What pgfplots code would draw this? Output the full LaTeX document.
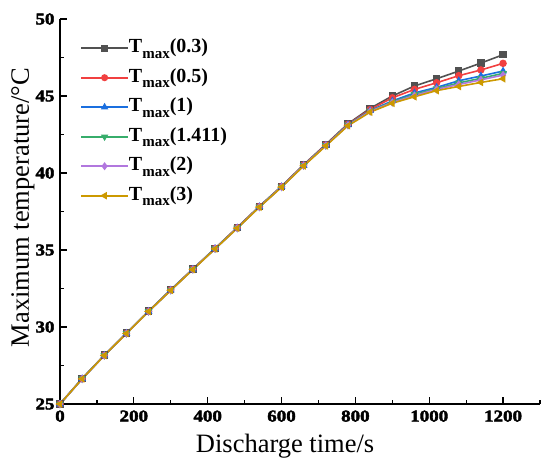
\documentclass[border=0pt]{standalone}
\usepackage{pgfplots}
\usepackage{pgfplotstable}
\pgfplotsset{compat=1.18}
\usepackage{fontspec}
\setmainfont{Liberation Serif}
\newfontfamily\tickfont[FakeStretch=1.15,FakeBold=2.5]{Liberation Serif Bold}
\definecolor{cA}{HTML}{515151}
\definecolor{cB}{HTML}{F14040}
\definecolor{cC}{HTML}{1A6FDF}
\definecolor{cD}{HTML}{37AD6B}
\definecolor{cE}{HTML}{B177DE}
\definecolor{cF}{HTML}{CC9900}
\newcommand{\Tm}[1]{T\raisebox{-0.28em}{\fontsize{15}{15}\selectfont max}(#1)}
\newcommand{\tlab}[1]{\mbox{\tickfont\fontsize{16.5}{18}\selectfont #1}}
\pgfplotstableread{
t    a     b     c     d     e     f
0    25.00 25.00 25.00 25.00 25.00 25.00
60   26.65 26.64 26.64 26.64 26.63 26.63
120  28.17 28.16 28.16 28.16 28.15 28.15
180  29.60 29.59 29.59 29.59 29.58 29.58
240  31.03 31.02 31.02 31.02 31.01 31.01
300  32.42 32.41 32.40 32.40 32.39 32.38
360  33.77 33.76 33.75 33.75 33.74 33.73
420  35.11 35.10 35.09 35.09 35.08 35.07
480  36.46 36.45 36.43 36.43 36.42 36.41
540  37.84 37.82 37.81 37.80 37.79 37.78
600  39.14 39.12 39.11 39.10 39.09 39.08
660  40.54 40.52 40.50 40.49 40.48 40.46
720  41.86 41.83 41.80 41.79 41.78 41.76
780  43.20 43.16 43.13 43.12 43.10 43.07
840  44.20 44.12 44.05 44.03 44.00 43.95
900  45.00 44.88 44.68 44.62 44.58 44.53
960  45.65 45.43 45.20 45.10 45.03 44.95
1020 46.12 45.86 45.56 45.48 45.43 45.35
1080 46.62 46.32 45.99 45.85 45.75 45.62
1140 47.14 46.69 46.30 46.15 46.05 45.88
1200 47.68 47.12 46.62 46.47 46.36 46.12
}\datatable
\begin{document}
\begin{tikzpicture}
\path[use as bounding box] (-60pt,-63pt) rectangle (490pt,404pt);
\begin{axis}[
  at={(0,0)}, anchor=south west,
  scale only axis, width=480pt, height=385pt,
  axis lines*=left,
  axis line style={line width=1.2pt},
  xmin=0, xmax=1300, ymin=25, ymax=50,
  xtick={0,200,...,1200}, minor xtick={100,300,...,1300},
  xticklabel={\tlab{\pgfmathprintnumber[assume math mode=true,1000 sep={}]{\tick}}},
  ytick={25,30,...,50}, minor ytick={27.5,32.5,...,47.5},
  yticklabel={\tlab{\pgfmathprintnumber[assume math mode=true]{\tick}}},
  tick align=inside,
  major tick length=7pt, minor tick length=4pt,
  every tick/.style={line width=1.2pt, black},
  xticklabel style={yshift=-3pt},
  yticklabel style={xshift=-2pt},
  xlabel={Discharge time/s},
  ylabel={Maximum temperature/°C},
  label style={font=\fontsize{26.5}{30}\selectfont},
  xlabel style={at={(axis description cs:0.469,-0.1247)}, anchor=base},
  ylabel style={at={(axis description cs:-0.0646,0.51)}, anchor=base},
  clip=false,
  every axis plot/.append style={line width=1.6pt, mark size=2.9pt},
  legend style={at={(axis description cs:0,1)}, anchor=north west,
    xshift=20pt, yshift=-19.5pt,
    draw=none, fill=none, font=\fontsize{20}{22}\selectfont\bfseries,
    row sep=10.5pt, inner sep=0pt,
    nodes={text height=14pt, text depth=5pt, inner sep=0pt}},
  legend cell align=left,
  legend image code/.code={\draw[line width=1.8pt, mark size=2.6pt, mark repeat=2,mark phase=2] plot coordinates {(0pt,0pt) (23.5pt,0pt) (47pt,0pt)};},
]
\addplot[color=cA, mark=square*] table[x=t,y=a] {\datatable};
\addplot[color=cB, mark=*] table[x=t,y=b] {\datatable};
\addplot[color=cC, mark=triangle*] table[x=t,y=c] {\datatable};
\addplot[color=cD, mark=triangle*, mark options={rotate=180}] table[x=t,y=d] {\datatable};
\addplot[color=cE, mark=diamond*] table[x=t,y=e] {\datatable};
\addplot[color=cF, mark=triangle*, mark options={rotate=90}] table[x=t,y=f] {\datatable};
\legend{\Tm{0.3},\Tm{0.5},\Tm{1},\Tm{1.411},\Tm{2},\Tm{3}}
\end{axis}
\end{tikzpicture}
\end{document}
